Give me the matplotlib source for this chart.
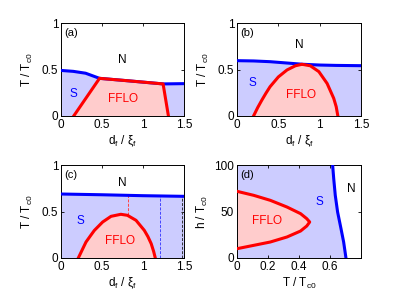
import numpy as np
import matplotlib
matplotlib.use("Agg")
import matplotlib.pyplot as plt

plt.rcParams['font.family'] = ['Liberation Sans', 'DejaVu Sans']
plt.rcParams['mathtext.fontset'] = 'custom'
plt.rcParams['mathtext.rm'] = 'Liberation Sans'
plt.rcParams['mathtext.it'] = 'Liberation Sans'

BLUE = '#0000ff'
RED = '#ff0000'
BFILL = '#ccccff'
RFILL = '#ffcccc'

# Panel (a)
a_blue_x = [0.0, 0.15, 0.3, 0.47, 0.8, 1.245, 1.5]
a_blue_y = [0.49, 0.48, 0.46, 0.405, 0.38, 0.345, 0.348]
a_red_x = [0.155, 0.47, 0.8, 1.245, 1.31]
a_red_y = [0.0, 0.405, 0.38, 0.345, 0.0]

# Panel (b)
b_blue_x = [0.0, 0.2, 0.4, 0.6, 0.8, 1.0, 1.2, 1.5]
b_blue_y = [0.595, 0.592, 0.584, 0.57, 0.556, 0.548, 0.544, 0.541]
b_red_x = [0.2, 0.25, 0.3, 0.35, 0.4, 0.5, 0.605, 0.706, 0.786, 0.887, 0.99, 1.09, 1.17, 1.2, 1.22]
b_red_y = [0.0, 0.09, 0.17, 0.245, 0.315, 0.42, 0.495, 0.54, 0.556, 0.54, 0.477, 0.35, 0.19, 0.1, 0.0]

# Panel (c)
c_blue_x = [0.0, 0.5, 1.0, 1.5]
c_blue_y = [0.688, 0.68, 0.67, 0.663]
c_red_x = [0.211, 0.26, 0.305, 0.36, 0.407, 0.508, 0.61, 0.73, 0.81, 0.915, 1.016, 1.06, 1.1, 1.13, 1.15]
c_red_y = [0.0, 0.09, 0.172, 0.24, 0.297, 0.387, 0.448, 0.47, 0.459, 0.405, 0.297, 0.23, 0.154, 0.07, 0.0]
c_vlines_x = [0.813, 1.207, 1.476]
c_vlines_y0 = [0.462, 0.0, 0.0]
c_vlines_colors = ['#ff4444', '#4444ff', '#333333']

# Panel (d)
d_blue_h = [0, 17.2, 31.5, 49.5, 67.4, 85.3, 100]
d_blue_T = [0.703, 0.688, 0.671, 0.649, 0.634, 0.624, 0.617]
d_red_T = [0.0, 0.1075, 0.215, 0.3225, 0.41, 0.45, 0.469, 0.45, 0.41, 0.3225, 0.215, 0.1075, 0.0]
d_red_h = [71.7, 67.4, 62, 54.8, 47.7, 42.3, 38.7, 34.4, 29, 22.6, 17.2, 13.6, 10]

fig = plt.figure(figsize=(3.99, 3.0), dpi=100)
W, H = 399, 300
def ax_at(l, t, r, b):
    return fig.add_axes([l / W, 1 - b / H, (r - l) / W, (b - t) / H])

axa = ax_at(61, 23, 184, 116)
axb = ax_at(237, 23, 361, 116)
axc = ax_at(61, 165, 184, 258)
axd = ax_at(237, 165, 361, 258)

fs = 8.5
def style(ax):
    ax.tick_params(direction='in', top=True, right=True, length=2.5, width=0.6, labelsize=fs, pad=2)
    for s in ax.spines.values():
        s.set_linewidth(0.7)

def dpanel(ax, bx, by, rx, ry, label, nxy, sxy, fxy):
    ax.fill_between(bx, 0, by, color=BFILL, lw=0, zorder=1)
    ax.fill(rx, ry, color=RFILL, lw=0, zorder=2)
    ax.plot(bx, by, color=BLUE, lw=2.2, zorder=4, solid_capstyle='butt')
    ax.plot(rx, ry, color=RED, lw=2.2, zorder=5, solid_joinstyle='round')
    ax.set_xlim(0, 1.5)
    ax.set_ylim(0, 1)
    ax.set_xticks([0, 0.5, 1, 1.5])
    ax.set_xticklabels(['0', '0.5', '1', '1.5'])
    ax.set_yticks([0, 0.5, 1])
    ax.set_yticklabels(['0', '0.5', '1'])
    ax.set_xlabel(r'd$_\mathrm{f}$ / $\xi_\mathrm{f}$', fontsize=fs, labelpad=2)
    ax.set_ylabel(r'T / T$_\mathrm{c0}$', fontsize=fs, labelpad=4.5)
    ax.text(0.03, 0.95, label, transform=ax.transAxes, fontsize=fs - 0.5, va='top', ha='left')
    ax.text(*nxy, 'N', fontsize=fs, ha='center', va='center')
    ax.text(*sxy, 'S', fontsize=fs, ha='center', va='center', color=BLUE)
    ax.text(*fxy, 'FFLO', fontsize=fs, ha='center', va='center', color=RED)
    style(ax)

dpanel(axa, a_blue_x, a_blue_y, a_red_x, a_red_y, '(a)', (0.75, 0.6), (0.15, 0.24), (0.76, 0.18))
dpanel(axb, b_blue_x, b_blue_y, b_red_x, b_red_y, '(b)', (0.75, 0.76), (0.19, 0.35), (0.78, 0.23))
dpanel(axc, c_blue_x, c_blue_y, c_red_x, c_red_y, '(c)', (0.75, 0.81), (0.24, 0.4), (0.72, 0.18))

for x, y0, col in zip(c_vlines_x, c_vlines_y0, c_vlines_colors):
    ytop = np.interp(x, c_blue_x, c_blue_y)
    axc.plot([x, x], [y0, ytop], color=col, lw=0.7, ls=(0, (3, 1.5)), zorder=3)

# Panel (d)
axd.fill_betweenx(d_blue_h, 0, d_blue_T, color=BFILL, lw=0, zorder=1)
axd.fill(d_red_T, d_red_h, color=RFILL, lw=0, zorder=2)
axd.plot(d_blue_T, d_blue_h, color=BLUE, lw=2.2, zorder=4)
axd.plot(d_red_T, d_red_h, color=RED, lw=2.2, zorder=5)
axd.set_xlim(0, 0.8)
axd.set_ylim(0, 100)
axd.set_xticks([0, 0.2, 0.4, 0.6])
axd.set_xticklabels(['0', '0.2', '0.4', '0.6'])
axd.set_yticks([0, 50, 100])
axd.set_xlabel(r'T / T$_\mathrm{c0}$', fontsize=fs, labelpad=2)
axd.set_ylabel(r'h / T$_\mathrm{c0}$', fontsize=fs, labelpad=3)
axd.text(0.03, 0.95, '(d)', transform=axd.transAxes, fontsize=fs - 0.5, va='top', ha='left')
axd.text(0.735, 74, 'N', fontsize=fs, ha='center', va='center')
axd.text(0.53, 60, 'S', fontsize=fs, ha='center', va='center', color=BLUE)
axd.text(0.195, 40, 'FFLO', fontsize=fs, ha='center', va='center', color=RED)
style(axd)

fig.savefig('out.png', dpi=100)
